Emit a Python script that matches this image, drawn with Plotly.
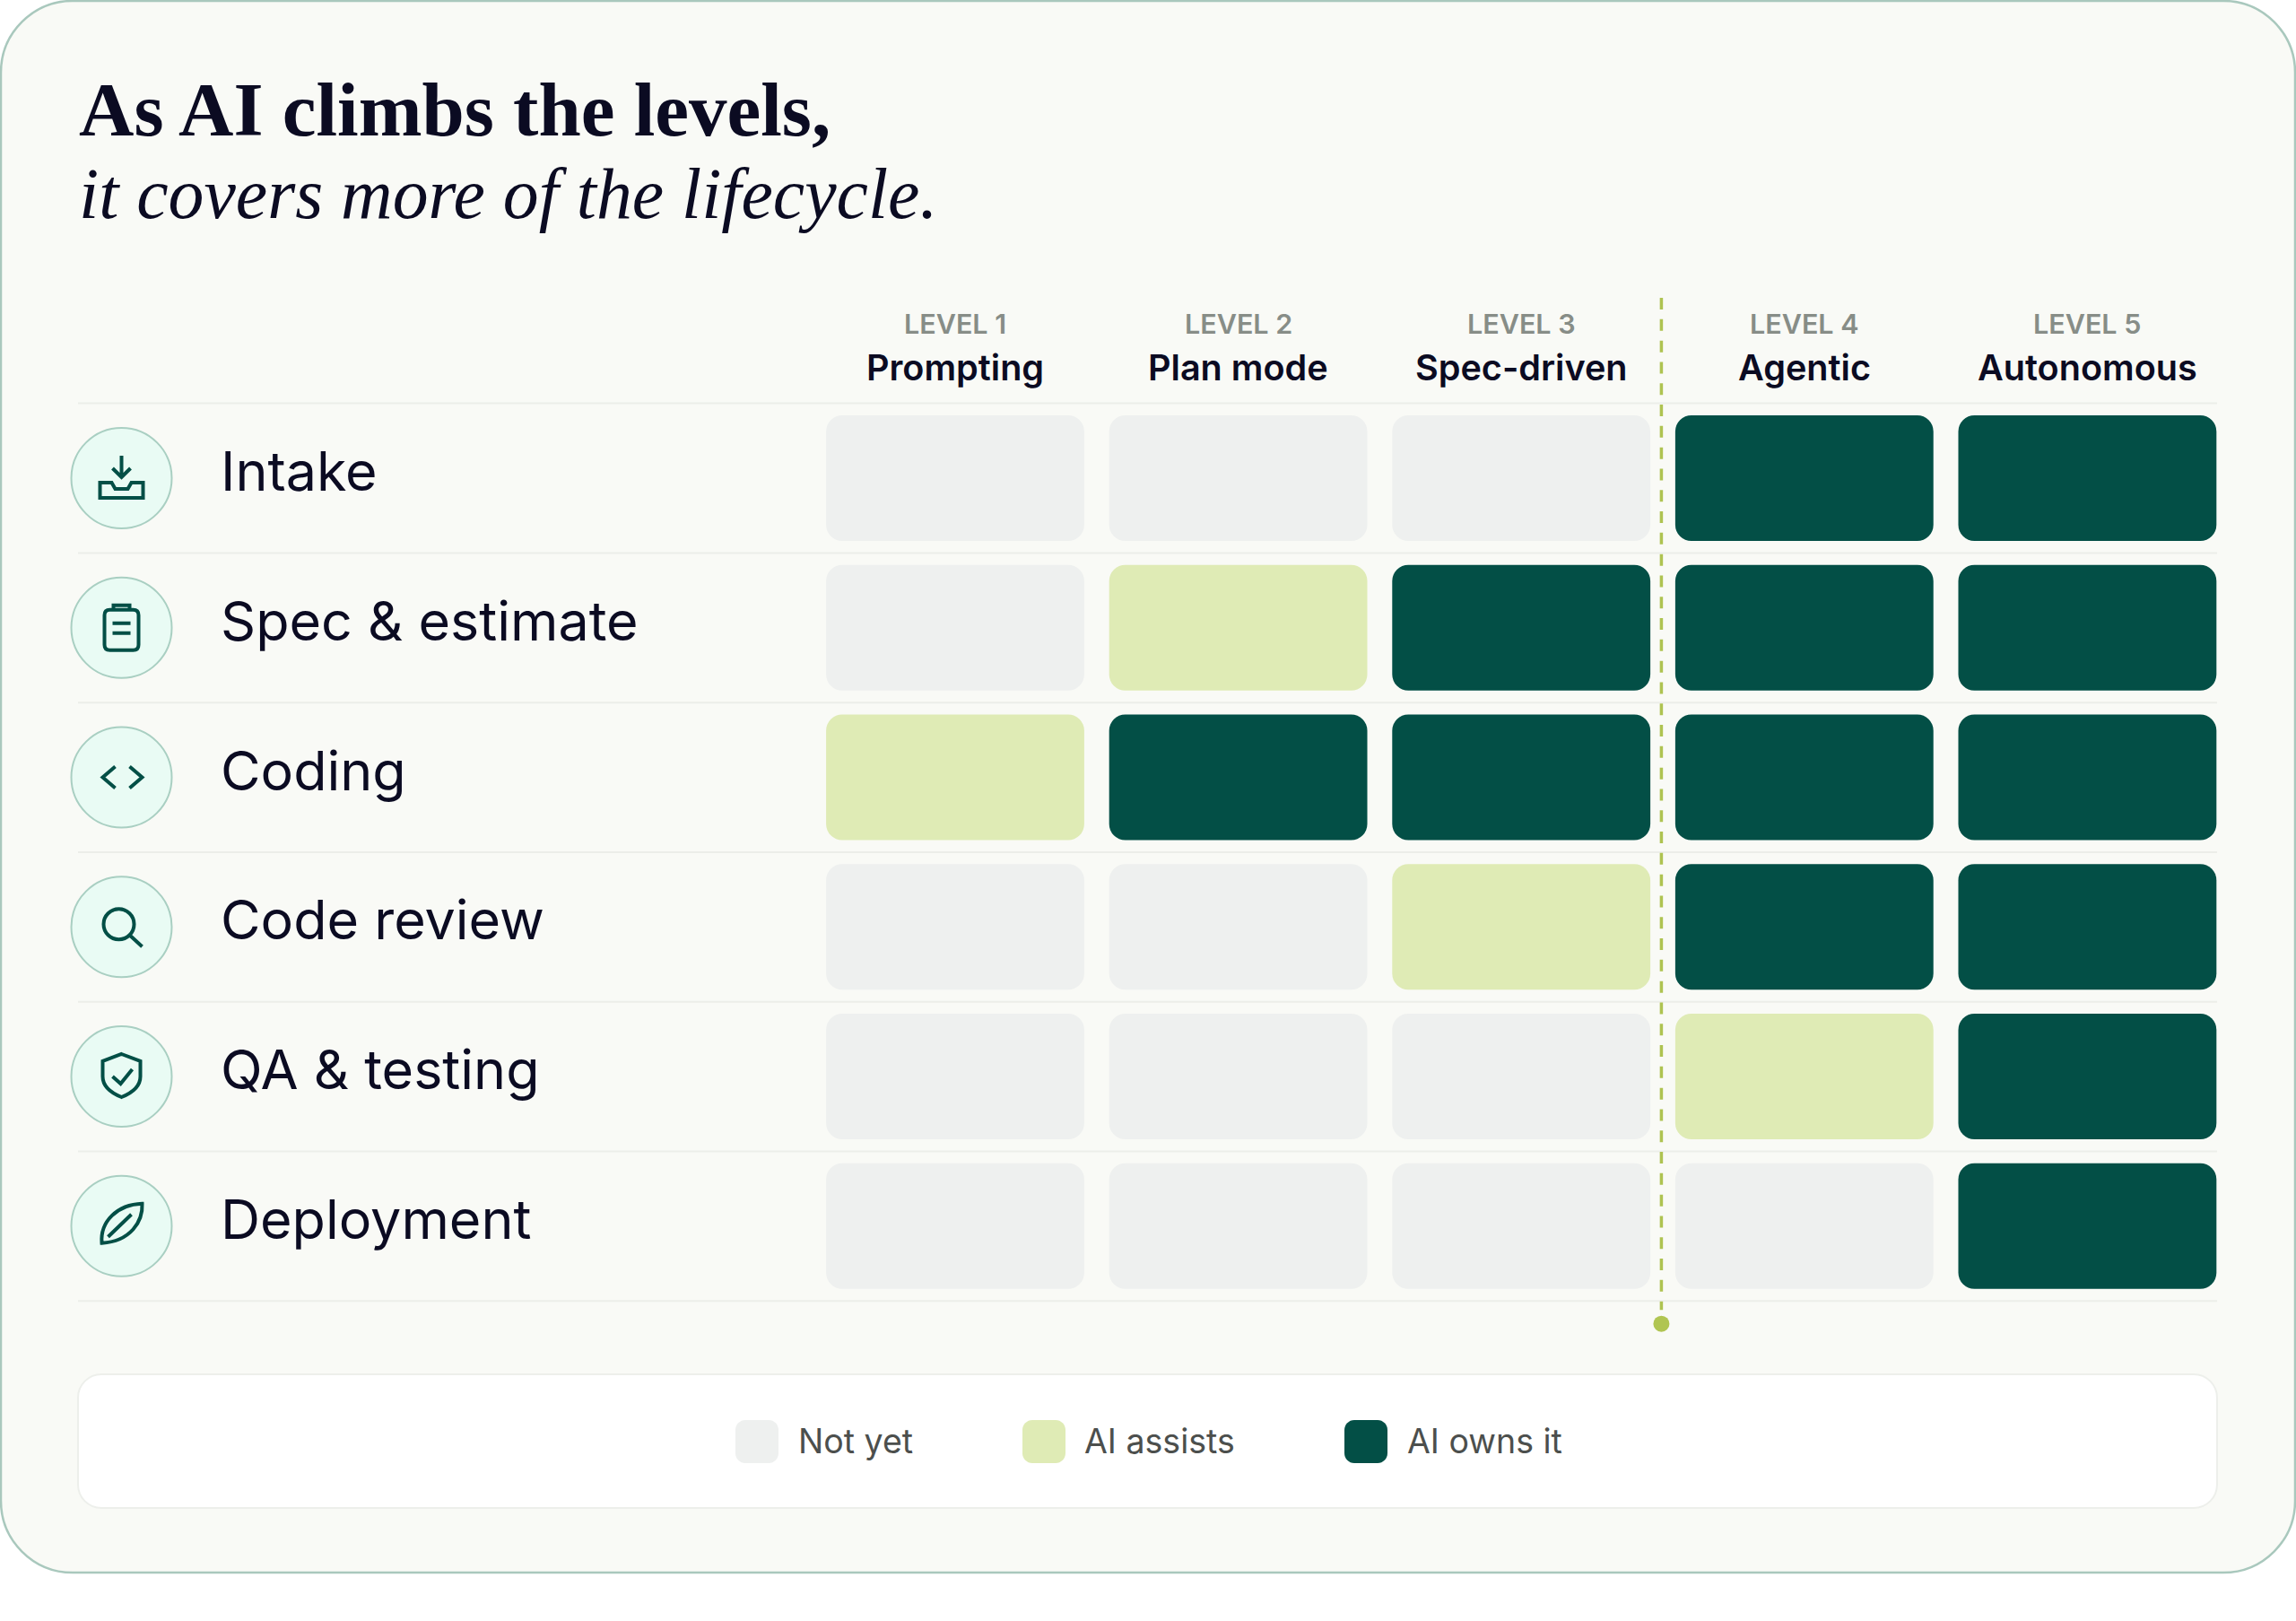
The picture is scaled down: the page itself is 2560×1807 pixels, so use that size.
import re
import plotly.graph_objects as go

LEVELS = ["LEVEL 1", "LEVEL 2", "LEVEL 3", "LEVEL 4", "LEVEL 5"]
STAGES = ["Prompting", "Plan mode", "Spec-driven", "Agentic", "Autonomous"]
ROWS = ["Intake", "Spec & estimate", "Coding", "Code review", "QA & testing", "Deployment"]
# 0 = Not yet, 1 = AI assists, 2 = AI owns it
INTAKE = [0, 0, 0, 2, 2]
SPEC = [0, 1, 2, 2, 2]
CODING = [1, 2, 2, 2, 2]
REVIEW = [0, 0, 1, 2, 2]
QA = [0, 0, 0, 1, 2]
DEPLOY = [0, 0, 0, 0, 2]
MATRIX = [INTAKE, SPEC, CODING, REVIEW, QA, DEPLOY]
STATES = ["Not yet", "AI assists", "AI owns it"]
STATE_COLORS = ["#EEF0EF", "#DFEBB5", "#034F46"]

W, H = 2560, 1807
INK = "#0B0B22"
SANS = "Inter, sans-serif"
SERIF = "'Liberation Serif', serif"
ICON = "#034F46"
THRESHOLD = 2.495


def px(x):
    return x / W


def py(y):
    return 1 - y / H


def rrect(x0, y0, x1, y1, r):
    k = r * 0.448
    pts = [
        ("M", (x0 + r, y0)), ("L", (x1 - r, y0)),
        ("C", (x1 - k, y0), (x1, y0 + k), (x1, y0 + r)), ("L", (x1, y1 - r)),
        ("C", (x1, y1 - k), (x1 - k, y1), (x1 - r, y1)), ("L", (x0 + r, y1)),
        ("C", (x0 + k, y1), (x0, y1 - k), (x0, y1 - r)), ("L", (x0, y0 + r)),
        ("C", (x0, y0 + k), (x0 + k, y0), (x0 + r, y0)),
    ]
    out = ""
    for p in pts:
        out += p[0] + " ".join(f"{px(a):.5f},{py(b):.5f}" for a, b in p[1:])
    return out + "Z"


def flip(path):
    """Icon paths are written y-down; pixel-sized shapes are y-up."""
    return re.sub(r"(-?\d+\.?\d*),(-?\d+\.?\d*)",
                  lambda m: f"{m.group(1)},{-float(m.group(2))}", path)


def circle_path(cx, cy, r):
    k = r * 0.5523
    return (f"M{cx-r},{cy} C{cx-r},{cy-k} {cx-k},{cy-r} {cx},{cy-r} "
            f"C{cx+k},{cy-r} {cx+r},{cy-k} {cx+r},{cy} "
            f"C{cx+r},{cy+k} {cx+k},{cy+r} {cx},{cy+r} "
            f"C{cx-k},{cy+r} {cx-r},{cy+k} {cx-r},{cy} Z")


ICONS = [
    "M0,-25 L0,-2 M-10,-11 L0,-1 L10,-11 M-24,5 L-11,5 L-7,12 L7,12 L11,5 L24,5 L24,22 L-24,22 Z",
    "M-13,-20 L13,-20 C17,-20 19,-18 19,-14 L19,19 C19,23 17,25 13,25 L-13,25 C-17,25 -19,23 -19,19 "
    "L-19,-14 C-19,-18 -17,-20 -13,-20 Z M-9,-20 L-9,-25 L9,-25 L9,-20 M-10,-5 L10,-5 M-10,6 L10,6",
    "M-7,-12 L-21,0 L-7,12 M9,-12 L23,0 L9,12",
    circle_path(-3, -3, 17) + " M10,10 L23,22",
    "M0,-25 L21,-17 L21,0 C21,12 10,19 0,23 C-10,19 -21,12 -21,0 L-21,-17 Z M-10,0 L-1,8 L12,-8",
    "M-22,19 C-24,-5 -5,-24 23,-25 C24,-5 10,17 -22,19 Z M-15,12 L11,-13",
]

fig = go.Figure()

for s, (name, color) in enumerate(zip(STATES, STATE_COLORS)):
    xs, ys, bases = [], [], []
    for r, row in enumerate(MATRIX):
        for c, v in enumerate(row):
            if v == s:
                xs.append(STAGES[c])
                ys.append(0.84)
                bases.append(r - 0.42)
    fig.add_trace(go.Bar(x=xs, y=ys, base=bases, name=name, width=0.912,
                         marker=dict(color=color, cornerradius=18, line=dict(width=0)),
                         hoverinfo="x+name", showlegend=False))

shapes = [
    dict(type="path", xref="paper", yref="paper", layer="below",
         path=rrect(1, 1, 2559, 1753, 80), fillcolor="#F9FAF6", line=dict(color="#A9C8BD", width=2.5)),
    dict(type="path", xref="paper", yref="paper", layer="below",
         path=rrect(87, 1532, 2472, 1681, 26), fillcolor="#FFFFFF", line=dict(color="#EDEFEB", width=2)),
]
for i in range(7):
    shapes.append(dict(type="line", xref="paper", yref="y", layer="below",
                       x0=px(87), x1=px(2472), y0=i - 0.5, y1=i - 0.5,
                       line=dict(color="#ECEEE9", width=2)))
shapes.append(dict(type="line", xref="x", yref="y", x0=THRESHOLD, x1=THRESHOLD, y0=-1.205, y1=5.56,
                   line=dict(color="#AEC351", width=3.5, dash="13px,10.8px")))
shapes.append(dict(type="circle", xref="x", yref="y", xsizemode="pixel", ysizemode="pixel",
                   xanchor=THRESHOLD, yanchor=5.653, x0=-9, x1=9, y0=-9, y1=9,
                   fillcolor="#B0C552", line=dict(width=0)))
for r, icon in enumerate(ICONS):
    shapes.append(dict(type="circle", xref="paper", yref="y", xsizemode="pixel", ysizemode="pixel",
                       xanchor=px(135.5), yanchor=r, x0=-56, x1=56, y0=-56, y1=56,
                       fillcolor="#E9FBF4", line=dict(color="#A9CFC2", width=2)))
    shapes.append(dict(type="path", xref="paper", yref="y", xsizemode="pixel", ysizemode="pixel",
                       xanchor=px(135.5), yanchor=r, path=flip(icon),
                       line=dict(color=ICON, width=4)))
for x0, color in zip([820, 1140, 1499], STATE_COLORS):
    shapes.append(dict(type="path", xref="paper", yref="paper",
                       path=rrect(x0, 1583, x0 + 48, 1631, 11), fillcolor=color, line=dict(width=0)))

ann = []


def text(x, y, s, size, color, anchor="left", family=SANS, weight=None, style=None):
    f = dict(family=family, size=size, color=color)
    if weight:
        f["weight"] = weight
    if style:
        f["style"] = style
    ann.append(dict(x=px(x), y=py(y), xref="paper", yref="paper", text=s, showarrow=False,
                    xanchor=anchor, yanchor="middle", font=f, borderpad=0, borderwidth=0))


text(88, 122, "As AI climbs the levels,", 85, INK, family=SERIF, weight=700)
text(88, 216, "it covers more of the lifecycle.", 79.7, INK, family=SERIF, style="italic")
for i, (l, n) in enumerate(zip(LEVELS, STAGES)):
    ann.append(dict(x=i, y=-1.036, xref="x", yref="y", text=l, showarrow=False,
                    font=dict(family=SANS, size=30.5, color="#878D87", weight=600), xanchor="center", yanchor="middle"))
    ann.append(dict(x=i, y=-0.735, xref="x", yref="y", text=n, showarrow=False,
                    font=dict(family=SANS, size=39.6, color=INK, weight=600), xanchor="center", yanchor="middle"))
for r, name in enumerate(ROWS):
    ann.append(dict(x=px(243.5), y=r, xref="paper", yref="y", yshift=8, text=name, showarrow=False,
                    xanchor="left", yanchor="middle", font=dict(family=SANS, size=61, color=INK)))
for x, s in zip([890, 1209, 1569], STATES):
    text(x, 1606, s, 37.5, "#4C4F4D")

Y_TOP, Y_BOTTOM = -1.4, 5.9
ROW0_PX, ROW_STEP = 533, 166.75
fig.update_layout(
    width=W, height=H, margin=dict(l=0, r=0, t=0, b=0),
    paper_bgcolor="#FFFFFF", plot_bgcolor="rgba(0,0,0,0)",
    barmode="overlay", shapes=shapes, annotations=ann,
    xaxis=dict(domain=[907.2 / W, 2485.2 / W], range=[-0.5, 4.5], type="category",
               categoryorder="array", categoryarray=STAGES,
               showgrid=False, zeroline=False, showticklabels=False, ticks="", showline=False),
    yaxis=dict(domain=[1 - (ROW0_PX + ROW_STEP * Y_BOTTOM) / H, 1 - (ROW0_PX + ROW_STEP * Y_TOP) / H],
               range=[Y_BOTTOM, Y_TOP],
               showgrid=False, zeroline=False, showticklabels=False, ticks="", showline=False),
)
fig.write_html("out.html", config={"displayModeBar": False},
               post_script="document.body.style.margin='0';document.body.style.overflow='hidden';")
